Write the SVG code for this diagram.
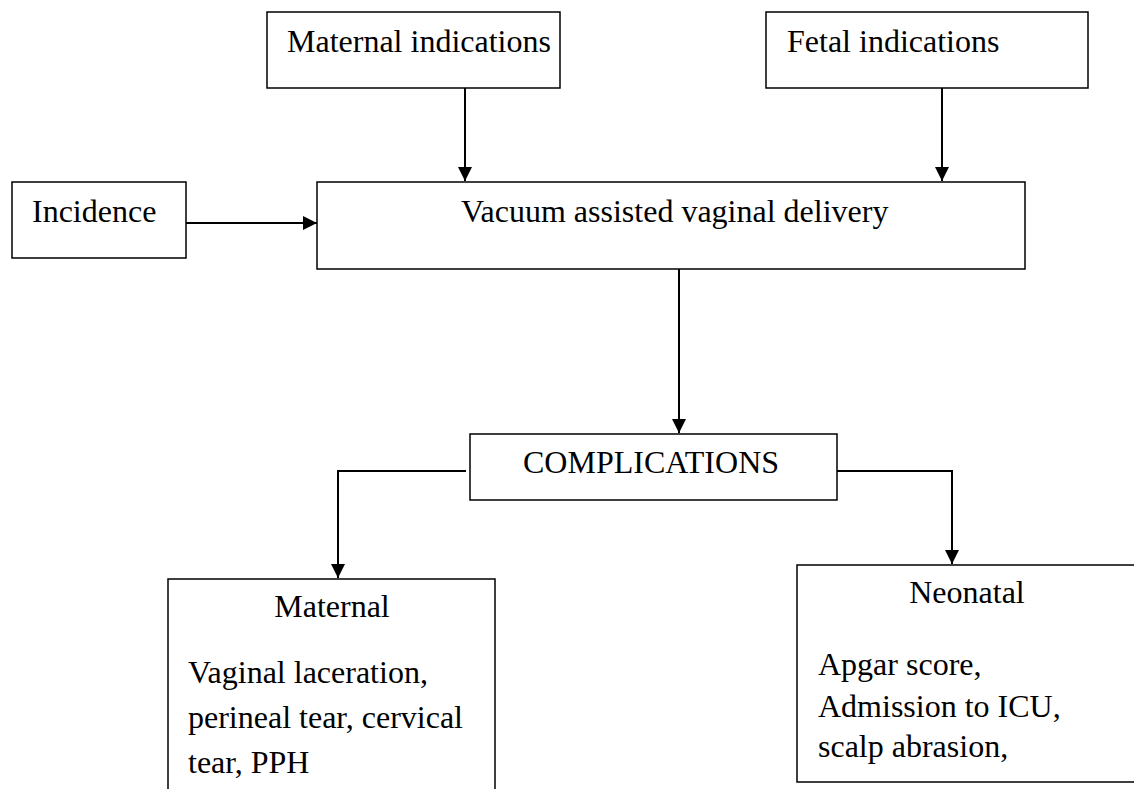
<svg xmlns="http://www.w3.org/2000/svg" width="1134" height="789" viewBox="0 0 1134 789">
<style>
.box{fill:#fff;stroke:#000;stroke-width:1.5}
.t{font-family:"Liberation Serif","Times New Roman",serif;font-size:32px;fill:#000}
.c{stroke:#000;stroke-width:2;fill:none}
</style>
<defs>
<marker id="ah" viewBox="0 0 14 14" refX="14" refY="7" markerWidth="14" markerHeight="14" markerUnits="userSpaceOnUse" orient="auto">
<path d="M0,0 L14,7 L0,14 Z" fill="#000"/>
</marker>
</defs>
<rect width="1134" height="789" fill="#fff"/>
<g id="connectors">
<path class="c" d="M465,88 V181" marker-end="url(#ah)"/>
<path class="c" d="M942,88 V181" marker-end="url(#ah)"/>
<path class="c" d="M186,223 H317" marker-end="url(#ah)"/>
<path class="c" d="M679,269 V433" marker-end="url(#ah)"/>
<path class="c" d="M466,471 H338 V578" marker-end="url(#ah)"/>
<path class="c" d="M837,471 H952 V564" marker-end="url(#ah)"/>
</g>
<g id="maternal-indications">
<rect class="box" x="267" y="12" width="293" height="76"/>
<text class="t" x="287" y="52">Maternal indications</text>
</g>
<g id="fetal-indications">
<rect class="box" x="766" y="12" width="322" height="76"/>
<text class="t" x="787" y="52">Fetal indications</text>
</g>
<g id="incidence">
<rect class="box" x="12" y="182" width="174" height="76"/>
<text class="t" x="32" y="222">Incidence</text>
</g>
<g id="vacuum">
<rect class="box" x="317" y="182" width="708" height="87"/>
<text class="t" x="461" y="222">Vacuum assisted vaginal delivery</text>
</g>
<g id="complications">
<rect class="box" x="470" y="434" width="367" height="66"/>
<text class="t" x="523" y="473">COMPLICATIONS</text>
</g>
<g id="maternal">
<rect class="box" x="168" y="579" width="327" height="230"/>
<text class="t" x="332" y="617" text-anchor="middle">Maternal</text>
<text class="t" x="188" y="683">Vaginal laceration,</text>
<text class="t" x="188" y="728">perineal tear, cervical</text>
<text class="t" x="188" y="773">tear, PPH</text>
</g>
<g id="neonatal">
<rect class="box" x="797" y="565" width="350" height="217"/>
<text class="t" x="967" y="603" text-anchor="middle">Neonatal</text>
<text class="t" x="818" y="675">Apgar score,</text>
<text class="t" x="818" y="717">Admission to ICU,</text>
<text class="t" x="818" y="757">scalp abrasion,</text>
</g>
</svg>
